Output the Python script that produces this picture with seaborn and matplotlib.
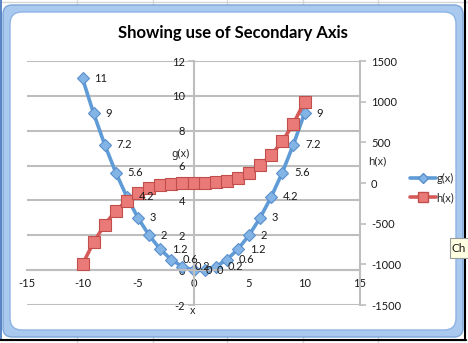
import matplotlib
matplotlib.use("Agg")
import matplotlib.pyplot as plt
import matplotlib.transforms as mtransforms
from matplotlib.patches import FancyBboxPatch, Rectangle
from matplotlib.lines import Line2D
import pandas as pd
import seaborn as sns

# ---------------- data ----------------
x_vals = [-10, -9, -8, -7, -6, -5, -4, -3, -2, -1, 0, 1, 2, 3, 4, 5, 6, 7, 8, 9, 10]
g_vals = [11, 9, 7.2, 5.6, 4.2, 3, 2, 1.2, 0.6, 0.2, 0, 0, 0.2, 0.6, 1.2, 2, 3, 4.2, 5.6, 7.2, 9]
h_vals = [-1000, -729, -512, -343, -216, -125, -64, -27, -8, -1, 0, 1, 8, 27, 64, 125, 216,
          343, 512, 729, 1000]
g_labels = ["11", "9", "7.2", "5.6", "4.2", "3", "2", "1.2", "0.6", "0.2", "0", "0", "0.2",
            "0.6", "1.2", "2", "3", "4.2", "5.6", "7.2", "9"]
x_ticks = [-15, -10, -5, 0, 5, 10, 15]
y1_ticks = [-2, 0, 2, 4, 6, 8, 10, 12]
y2_ticks = [-1500, -1000, -500, 0, 500, 1000, 1500]
title_text = "Showing use of Secondary Axis"
series_names = ["g(x)", "h(x)"]

# ---------------- style ----------------
sns.set_style("white")
plt.rcParams["font.family"] = ["Lato", "DejaVu Sans"]
plt.rcParams["axes.unicode_minus"] = False

W, H = 468, 343
fig = plt.figure(figsize=(W / 100, H / 100), dpi=100)
fig.patch.set_facecolor("white")
ident = mtransforms.IdentityTransform()


def fx(px):
    return px / W


def fy(py):
    return 1 - py / H


# spreadsheet background lines
for cx in [77, 153, 227, 303, 378]:
    fig.add_artist(Line2D([cx, cx], [0, H], transform=ident, color="#D6D6D6", lw=1, zorder=-20))
for ry in [2, 340]:
    fig.add_artist(Line2D([0, W], [H - ry, H - ry], transform=ident, color="#D6D6D6", lw=1, zorder=-20))

# Excel chart frame
fig.add_artist(Rectangle((0, H - 340), 2, 340, transform=ident, facecolor="#5B86C5",
                         edgecolor="none", zorder=-15))
fig.add_artist(FancyBboxPatch((3, H - 337), 460, 332, boxstyle="round,pad=0,rounding_size=9",
                              transform=ident, facecolor="#A9C9EF", edgecolor="#7DA6DA",
                              lw=1, zorder=-10))
fig.add_artist(FancyBboxPatch((10, H - 330), 446, 318, boxstyle="round,pad=0,rounding_size=12",
                              transform=ident, facecolor="white", edgecolor="#8DB4E5",
                              lw=1, zorder=-9))
fig.add_artist(Line2D([465, 465], [H - 340, H], transform=ident, color="black", lw=1.5, zorder=-8))
fig.add_artist(Line2D([0, 466], [H - 340, H - 340], transform=ident, color="black", lw=1.5, zorder=-8))

# ---------------- axes ----------------
ax = fig.add_axes([fx(27), fy(305), (360 - 27) / W, (305 - 61) / H])
ax.set_facecolor("none")
ax2 = ax.twinx()

df = pd.DataFrame({"x": x_vals, "g": g_vals, "h": h_vals})

blue = "#5F9BD7"
red = "#D65B58"
sns.lineplot(data=df, x="x", y="g", ax=ax, color=blue, lw=2.6, marker="D", markersize=6.3,
             markerfacecolor="#83B4E6", markeredgecolor="#5A8FCC", markeredgewidth=0.8,
             legend=False)
sns.lineplot(data=df, x="x", y="h", ax=ax2, color=red, lw=2.6, marker="s", markersize=8,
             markerfacecolor="#EA7A78", markeredgecolor="#C24E4B", markeredgewidth=0.8,
             legend=False)

grid_c = "#BEBEBE"
ax.set_xlim(-15, 15)
ax.set_ylim(-2, 12)
ax.set_xticks(x_ticks)
ax.set_yticks(y1_ticks)
ax.yaxis.grid(True, color=grid_c, lw=1.5)
ax.xaxis.grid(False)
ax.set_axisbelow(True)
for s in ["top", "right"]:
    ax.spines[s].set_visible(False)
ax.spines["left"].set_position(("data", 0))
ax.spines["bottom"].set_position(("data", 0))
for s in ["left", "bottom"]:
    ax.spines[s].set_color(grid_c)
    ax.spines[s].set_linewidth(1.5)
ax.tick_params(axis="both", direction="out", length=4, width=1.2, color=grid_c,
               labelsize=8, labelcolor="#1A1A1A", pad=2)
ax.set_xlabel("")
ax.set_ylabel("")

ax2.set_ylim(-1500, 1500)
ax2.set_yticks(y2_ticks)
for s in ["top", "left", "bottom"]:
    ax2.spines[s].set_visible(False)
ax2.spines["right"].set_color(grid_c)
ax2.spines["right"].set_linewidth(1.5)
ax2.tick_params(axis="y", direction="out", length=4, width=1.2, color=grid_c,
                labelsize=8, labelcolor="#1A1A1A", pad=4)
ax2.grid(False)
ax2.set_ylabel("")

# data labels for g(x)
for xv, gv, lb in zip(x_vals, g_vals, g_labels):
    ax2.annotate(lb, xy=(xv, gv), xycoords=ax.transData, xytext=(8.5, 0),
                 textcoords="offset points", ha="left", va="center", fontsize=8,
                 color="#1A1A1A", zorder=10)

# texts
fig.text(fx(233), fy(33), title_text, ha="center", va="center", fontsize=12,
         fontweight="bold", color="black")
axis_font = ["Noto Sans", "DejaVu Sans"]
fig.text(fx(193), fy(312), "x", ha="center", va="center", fontsize=7.5, fontweight="bold",
         family=axis_font)
fig.text(fx(180), fy(154), "g(x)", ha="center", va="center", fontsize=7.5, fontweight="bold",
         family=axis_font)
fig.text(fx(377), fy(162), "h(x)", ha="center", va="center", fontsize=7.5, fontweight="bold",
         family=axis_font)

# legend
handles = [
    Line2D([], [], color=blue, lw=2.6, marker="D", markersize=5, markerfacecolor="#83B4E6",
           markeredgecolor="#5A8FCC"),
    Line2D([], [], color=red, lw=2.6, marker="s", markersize=6.5, markerfacecolor="#EA7A78",
           markeredgecolor="#C24E4B"),
]
fig.legend(handles, series_names, loc="center left", bbox_to_anchor=(fx(400), fy(188)),
           frameon=False, fontsize=8, handlelength=2.3, handletextpad=0.1, labelspacing=0.7)

# tooltip fragment at right edge
fig.add_artist(Rectangle((450, H - 258), 22, 20, transform=ident, facecolor="#FFFFE1",
                         edgecolor="#9A9A9A", lw=0.8, zorder=5))
fig.text(fx(452), fy(248), "Ch", ha="left", va="center", fontsize=8.5, color="#1A1A1A", zorder=6)

fig.savefig("out.png", dpi=100)
